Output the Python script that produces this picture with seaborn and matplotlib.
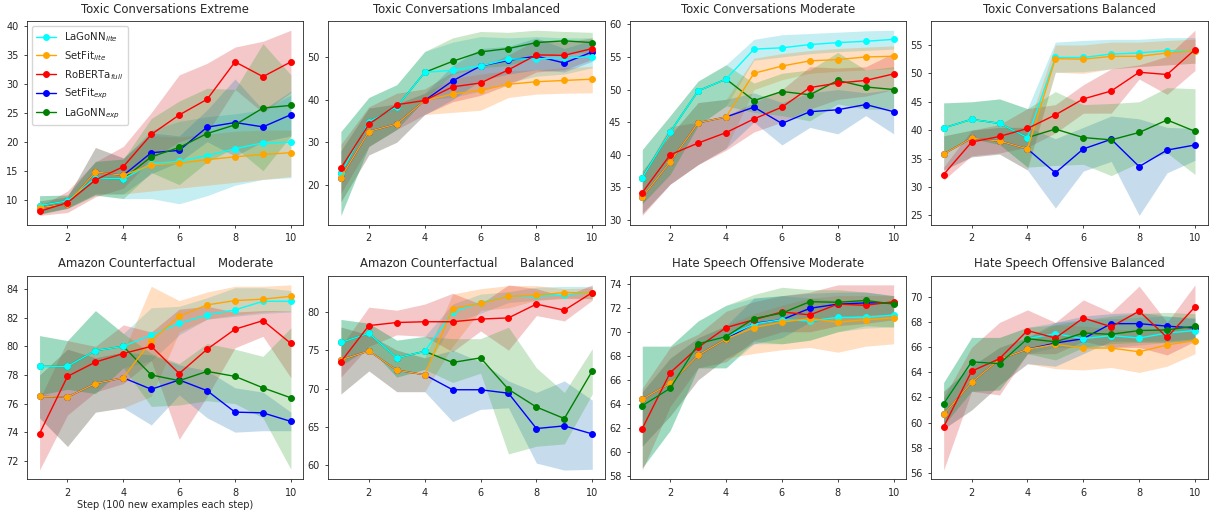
import numpy as np
import matplotlib
matplotlib.use('Agg')
import matplotlib.pyplot as plt
from matplotlib.ticker import MultipleLocator
import seaborn as sns

steps = [1, 2, 3, 4, 5, 6, 7, 8, 9, 10]
series = ['lagonn_lite', 'setfit_lite', 'roberta_full', 'setfit_exp', 'lagonn_exp']
labels = [r'LaGoNN$_{lite}$', r'SetFit$_{lite}$', r'RoBERTa$_{full}$', r'SetFit$_{exp}$', r'LaGoNN$_{exp}$']
line_colors = ['cyan', 'orange', 'red', 'blue', 'green']
band_colors = ['tab:cyan', 'tab:orange', 'tab:red', 'tab:blue', 'tab:green']

titles = ['Toxic Conversations Extreme', 'Toxic Conversations Imbalanced',
          'Toxic Conversations Moderate', 'Toxic Conversations Balanced',
          'Amazon Counterfactual      Moderate', 'Amazon Counterfactual      Balanced',
          'Hate Speech Offensive Moderate', 'Hate Speech Offensive Balanced']

# --- Toxic Conversations Extreme
tc_extreme_mean = {
    'lagonn_lite': [9.0, 9.8, 13.75, 13.6, 16.2, 16.6, 17.6, 18.8, 19.8, 19.9],
    'setfit_lite': [8.6, 9.3, 14.8, 14.2, 16.0, 16.3, 16.9, 17.4, 17.8, 18.1],
    'roberta_full': [8.0, 9.5, 13.4, 15.7, 21.25, 24.6, 27.3, 33.75, 31.2, 33.75],
    'setfit_exp': [8.6, 9.3, 14.8, 14.2, 18.1, 18.5, 22.5, 23.3, 22.55, 24.65],
    'lagonn_exp': [9.0, 9.8, 13.75, 13.6, 17.4, 19.0, 21.4, 22.9, 25.8, 26.25],
}
tc_extreme_lo = {
    'lagonn_lite': [7.5, 8.5, 10.8, 10.2, 10.2, 9.3, 10.7, 12.5, 13.5, 13.8],
    'setfit_lite': [7.6, 8.6, 11.0, 11.0, 11.5, 12.0, 12.5, 13.0, 13.5, 14.0],
    'roberta_full': [7.3, 7.8, 10.5, 12.0, 17.0, 20.0, 21.5, 29.0, 25.0, 28.5],
    'setfit_exp': [7.6, 8.6, 11.0, 11.0, 14.5, 16.5, 20.0, 17.5, 20.0, 21.0],
    'lagonn_exp': [7.5, 8.5, 10.8, 10.2, 14.7, 12.6, 16.5, 19.0, 15.0, 21.0],
}
tc_extreme_hi = {
    'lagonn_lite': [10.7, 10.8, 16.6, 17.0, 22.0, 23.5, 24.3, 24.8, 25.5, 28.0],
    'setfit_lite': [9.8, 10.5, 19.0, 17.2, 21.0, 20.8, 21.3, 21.8, 22.0, 22.0],
    'roberta_full': [8.8, 11.5, 16.5, 19.2, 25.0, 31.5, 33.5, 36.3, 37.3, 39.2],
    'setfit_exp': [9.8, 10.5, 19.0, 17.2, 21.5, 21.0, 25.5, 30.8, 25.5, 28.7],
    'lagonn_exp': [10.7, 10.8, 16.6, 17.0, 24.0, 27.0, 29.2, 29.0, 36.9, 31.5],
}

# --- Toxic Conversations Imbalanced
tc_imbalanced_mean = {
    'lagonn_lite': [22.7, 34.8, 38.3, 46.4, 46.9, 47.9, 49.5, 49.6, 49.8, 50.1],
    'setfit_lite': [21.7, 32.5, 34.3, 39.8, 41.3, 42.2, 43.6, 44.2, 44.5, 44.8],
    'roberta_full': [23.9, 34.2, 38.8, 39.8, 43.0, 43.9, 47.0, 50.5, 50.4, 52.0],
    'setfit_exp': [21.7, 32.5, 34.3, 39.8, 44.4, 47.9, 49.2, 50.2, 48.6, 51.2],
    'lagonn_exp': [22.7, 34.8, 38.3, 46.4, 49.0, 51.2, 52.0, 53.4, 53.8, 53.4],
}
tc_imbalanced_lo = {
    'lagonn_lite': [12.8, 29.0, 33.0, 40.0, 40.5, 42.0, 44.0, 45.5, 46.0, 47.5],
    'setfit_lite': [16.0, 27.0, 30.0, 36.5, 37.0, 37.5, 40.5, 41.3, 41.5, 41.6],
    'roberta_full': [18.0, 29.0, 33.0, 36.5, 39.5, 41.0, 43.5, 46.5, 47.0, 49.5],
    'setfit_exp': [16.0, 27.0, 30.0, 36.5, 40.0, 44.5, 46.0, 47.0, 46.5, 49.0],
    'lagonn_exp': [12.8, 29.0, 33.0, 40.0, 46.0, 47.5, 48.0, 50.0, 51.0, 51.0],
}
tc_imbalanced_hi = {
    'lagonn_lite': [32.5, 40.5, 43.5, 51.3, 53.5, 54.8, 54.5, 54.8, 54.5, 54.5],
    'setfit_lite': [28.0, 38.0, 39.0, 41.5, 45.0, 46.0, 46.8, 47.0, 47.5, 47.8],
    'roberta_full': [29.5, 38.3, 41.5, 42.5, 46.5, 47.5, 50.5, 54.0, 53.5, 54.5],
    'setfit_exp': [28.0, 38.0, 39.0, 41.5, 48.0, 52.0, 52.5, 54.5, 52.0, 54.0],
    'lagonn_exp': [32.5, 40.5, 43.5, 51.3, 54.5, 56.0, 55.8, 56.3, 56.0, 55.8],
}

# --- Toxic Conversations Moderate
tc_moderate_mean = {
    'lagonn_lite': [36.5, 43.5, 49.8, 51.6, 56.2, 56.4, 56.9, 57.2, 57.4, 57.7],
    'setfit_lite': [33.5, 38.9, 44.9, 45.8, 52.5, 53.6, 54.4, 54.6, 55.0, 55.1],
    'roberta_full': [34.2, 40.0, 41.8, 43.4, 45.5, 47.3, 50.3, 51.0, 51.4, 52.4],
    'setfit_exp': [33.5, 38.9, 44.9, 45.8, 47.3, 44.8, 46.6, 46.9, 47.7, 46.6],
    'lagonn_exp': [36.5, 43.5, 49.8, 51.6, 48.3, 49.7, 49.2, 51.4, 50.4, 50.0],
}
tc_moderate_lo = {
    'lagonn_lite': [32.5, 37.0, 44.5, 47.5, 54.5, 55.0, 55.5, 55.8, 56.0, 56.2],
    'setfit_lite': [31.0, 35.5, 38.5, 41.0, 50.0, 51.5, 52.5, 52.8, 53.0, 53.2],
    'roberta_full': [30.7, 35.5, 38.5, 40.7, 43.5, 45.0, 47.0, 48.5, 49.0, 50.0],
    'setfit_exp': [31.0, 35.5, 38.5, 41.0, 45.0, 41.5, 44.2, 43.2, 46.0, 43.2],
    'lagonn_exp': [32.5, 37.0, 44.5, 47.5, 46.5, 46.0, 45.2, 47.8, 47.0, 47.0],
}
tc_moderate_hi = {
    'lagonn_lite': [40.8, 46.0, 51.3, 53.8, 57.7, 58.4, 58.6, 58.8, 59.0, 59.1],
    'setfit_lite': [37.5, 43.0, 48.0, 48.5, 54.8, 55.5, 56.0, 56.3, 56.5, 56.7],
    'roberta_full': [37.0, 44.3, 45.0, 46.0, 48.0, 50.0, 53.5, 53.3, 53.5, 55.6],
    'setfit_exp': [37.5, 43.0, 48.0, 48.5, 49.5, 48.0, 49.5, 50.0, 49.5, 50.0],
    'lagonn_exp': [40.8, 46.0, 51.3, 53.8, 51.0, 52.5, 53.0, 55.7, 53.0, 53.5],
}

# --- Toxic Conversations Balanced
tc_balanced_mean = {
    'lagonn_lite': [40.4, 41.9, 41.2, 38.7, 52.8, 52.8, 53.4, 53.6, 54.0, 54.0],
    'setfit_lite': [35.8, 38.6, 38.1, 36.7, 52.6, 52.5, 53.0, 53.0, 53.6, 54.0],
    'roberta_full': [32.2, 37.9, 38.9, 40.3, 42.7, 45.5, 46.9, 50.2, 49.8, 54.2],
    'setfit_exp': [35.8, 38.6, 38.1, 36.7, 32.5, 36.7, 38.4, 33.6, 36.5, 37.4],
    'lagonn_exp': [40.4, 41.9, 41.2, 38.7, 40.2, 38.7, 38.3, 39.6, 41.8, 39.8],
}
tc_balanced_lo = {
    'lagonn_lite': [36.0, 38.5, 37.5, 33.5, 50.2, 50.3, 50.8, 51.2, 51.5, 51.8],
    'setfit_lite': [33.0, 35.3, 35.8, 33.0, 50.2, 50.0, 50.8, 51.2, 51.5, 51.8],
    'roberta_full': [31.2, 35.5, 36.0, 37.0, 39.5, 43.0, 43.0, 49.0, 46.3, 50.5],
    'setfit_exp': [33.0, 35.3, 35.8, 33.0, 26.3, 32.8, 34.5, 25.0, 32.5, 34.7],
    'lagonn_exp': [36.0, 38.5, 37.5, 33.5, 33.8, 34.0, 32.0, 34.3, 36.0, 32.2],
}
tc_balanced_hi = {
    'lagonn_lite': [44.8, 45.0, 45.5, 43.8, 55.5, 55.8, 56.0, 56.0, 56.3, 56.3],
    'setfit_lite': [39.0, 40.0, 40.5, 40.5, 55.0, 55.0, 55.5, 55.5, 55.8, 56.0],
    'roberta_full': [33.5, 40.0, 41.0, 43.8, 44.5, 48.0, 50.8, 51.5, 53.0, 57.6],
    'setfit_exp': [39.0, 40.0, 40.5, 40.5, 38.5, 40.5, 42.5, 42.0, 40.5, 40.3],
    'lagonn_exp': [44.8, 45.0, 45.5, 43.8, 46.8, 44.5, 44.7, 45.0, 47.5, 47.3],
}

# --- Amazon Counterfactual Moderate
ac_moderate_mean = {
    'lagonn_lite': [78.6, 78.6, 79.7, 80.0, 80.8, 81.6, 82.2, 82.55, 83.15, 83.15],
    'setfit_lite': [76.5, 76.45, 77.4, 77.8, 80.4, 82.1, 82.9, 83.2, 83.3, 83.5],
    'roberta_full': [73.9, 77.9, 78.9, 79.5, 80.0, 78.1, 79.8, 81.2, 81.8, 80.2],
    'setfit_exp': [76.5, 76.45, 77.4, 77.8, 77.0, 77.65, 76.9, 75.4, 75.35, 74.75],
    'lagonn_exp': [78.6, 78.6, 79.7, 80.0, 78.0, 77.6, 78.25, 77.9, 77.1, 76.4],
}
ac_moderate_lo = {
    'lagonn_lite': [76.6, 77.0, 76.7, 78.5, 79.0, 80.8, 81.9, 82.1, 82.3, 82.4],
    'setfit_lite': [75.0, 73.0, 75.4, 75.7, 76.5, 81.0, 81.9, 82.2, 82.4, 82.5],
    'roberta_full': [71.35, 75.2, 76.8, 77.4, 79.0, 73.5, 76.5, 79.9, 80.7, 77.8],
    'setfit_exp': [75.0, 73.0, 75.4, 75.7, 74.5, 76.6, 75.0, 74.0, 74.1, 74.1],
    'lagonn_exp': [76.6, 77.0, 76.7, 78.5, 75.8, 75.9, 76.2, 76.0, 75.0, 71.4],
}
ac_moderate_hi = {
    'lagonn_lite': [80.75, 80.4, 82.5, 80.9, 82.7, 82.8, 83.4, 84.1, 84.1, 83.9],
    'setfit_lite': [78.0, 79.8, 79.2, 79.6, 84.2, 83.2, 83.8, 84.2, 84.2, 84.3],
    'roberta_full': [76.3, 80.4, 80.0, 81.5, 81.0, 82.6, 82.8, 82.4, 82.5, 82.5],
    'setfit_exp': [78.0, 79.8, 79.2, 79.6, 79.4, 78.7, 78.3, 77.1, 76.8, 75.4],
    'lagonn_exp': [80.75, 80.4, 82.5, 80.9, 79.5, 78.8, 80.2, 79.8, 79.3, 81.3],
}

# --- Amazon Counterfactual Balanced
ac_balanced_mean = {
    'lagonn_lite': [76.0, 77.2, 74.0, 74.85, 79.95, 81.2, 82.0, 82.0, 82.2, 82.5],
    'setfit_lite': [73.75, 74.9, 72.4, 71.8, 80.4, 81.1, 82.0, 82.15, 82.5, 82.45],
    'roberta_full': [73.5, 78.2, 78.6, 78.7, 78.7, 79.05, 79.2, 81.0, 80.2, 82.5],
    'setfit_exp': [73.75, 74.9, 72.4, 71.8, 69.85, 69.85, 69.4, 64.8, 65.15, 64.1],
    'lagonn_exp': [76.0, 77.2, 74.0, 74.85, 73.4, 74.0, 69.9, 67.6, 66.1, 72.3],
}
ac_balanced_lo = {
    'lagonn_lite': [73.0, 75.3, 71.5, 72.5, 78.5, 79.8, 81.2, 81.5, 81.8, 81.7],
    'setfit_lite': [69.3, 72.3, 69.6, 69.6, 75.5, 80.2, 80.5, 81.5, 81.7, 81.7],
    'roberta_full': [71.5, 75.5, 77.0, 76.8, 74.8, 77.5, 75.0, 79.5, 78.8, 81.5],
    'setfit_exp': [69.3, 72.3, 69.6, 69.6, 65.7, 67.3, 67.5, 60.3, 59.4, 59.5],
    'lagonn_exp': [73.0, 75.3, 71.5, 72.5, 70.8, 72.0, 61.5, 62.5, 62.8, 69.3],
}
ac_balanced_hi = {
    'lagonn_lite': [79.0, 78.5, 76.3, 76.8, 81.0, 82.3, 82.6, 83.2, 83.3, 83.3],
    'setfit_lite': [78.0, 77.0, 75.0, 74.0, 82.3, 83.0, 83.4, 83.4, 83.0, 83.1],
    'roberta_full': [75.5, 80.6, 80.2, 81.0, 82.4, 81.0, 83.5, 83.0, 82.0, 83.5],
    'setfit_exp': [78.0, 77.0, 75.0, 74.0, 75.0, 73.5, 71.0, 69.5, 71.0, 68.5],
    'lagonn_exp': [79.0, 78.5, 76.3, 76.8, 76.5, 76.5, 78.0, 72.7, 69.5, 75.2],
}

# --- Hate Speech Offensive Moderate
hs_moderate_mean = {
    'lagonn_lite': [63.85, 65.3, 69.0, 69.6, 70.65, 71.0, 70.9, 71.2, 71.2, 71.4],
    'setfit_lite': [64.4, 65.7, 68.05, 69.4, 70.35, 70.8, 71.1, 70.8, 71.0, 71.15],
    'roberta_full': [61.95, 66.6, 68.7, 70.35, 71.0, 71.65, 71.4, 72.3, 72.2, 72.5],
    'setfit_exp': [64.4, 65.7, 68.05, 69.4, 70.7, 71.0, 71.95, 72.3, 72.4, 72.4],
    'lagonn_exp': [63.85, 65.3, 69.0, 69.6, 71.1, 71.55, 72.5, 72.45, 72.6, 72.3],
}
hs_moderate_lo = {
    'lagonn_lite': [58.7, 61.8, 67.0, 67.0, 69.0, 69.0, 69.3, 70.0, 70.3, 70.4],
    'setfit_lite': [60.5, 63.0, 66.0, 67.8, 68.2, 68.5, 68.7, 68.3, 68.8, 69.0],
    'roberta_full': [58.5, 63.8, 67.0, 67.5, 69.3, 70.0, 70.0, 70.5, 70.7, 71.0],
    'setfit_exp': [60.5, 63.0, 66.0, 67.8, 69.0, 69.5, 70.8, 71.2, 71.4, 71.4],
    'lagonn_exp': [58.7, 61.8, 67.0, 67.0, 69.2, 69.0, 69.3, 70.0, 70.5, 70.4],
}
hs_moderate_hi = {
    'lagonn_lite': [68.8, 68.8, 70.9, 72.2, 72.8, 73.0, 72.8, 72.6, 72.5, 72.4],
    'setfit_lite': [65.0, 67.8, 69.5, 70.5, 71.5, 72.2, 72.8, 73.0, 73.0, 73.0],
    'roberta_full': [65.3, 68.7, 69.8, 71.7, 72.5, 73.0, 73.3, 73.9, 73.9, 73.9],
    'setfit_exp': [65.0, 67.8, 69.5, 70.5, 72.8, 73.0, 73.2, 73.3, 73.3, 73.0],
    'lagonn_exp': [68.8, 68.8, 70.9, 72.2, 73.1, 73.7, 73.5, 73.5, 73.3, 73.0],
}

# --- Hate Speech Offensive Balanced
hs_balanced_mean = {
    'lagonn_lite': [61.5, 64.85, 64.7, 66.7, 67.1, 66.7, 66.95, 66.75, 67.15, 67.35],
    'setfit_lite': [60.65, 63.2, 65.05, 65.85, 66.25, 65.95, 65.95, 65.65, 66.2, 66.55],
    'roberta_full': [59.65, 64.1, 65.1, 67.35, 66.75, 68.35, 67.65, 68.9, 66.8, 69.25],
    'setfit_exp': [60.65, 63.2, 65.05, 65.85, 66.35, 66.7, 67.9, 67.9, 67.7, 67.55],
    'lagonn_exp': [61.5, 64.85, 64.7, 66.7, 66.45, 67.15, 67.05, 67.35, 67.4, 67.7],
}
hs_balanced_lo = {
    'lagonn_lite': [59.8, 62.5, 62.6, 65.5, 66.0, 66.0, 66.0, 66.2, 66.4, 66.5],
    'setfit_lite': [59.5, 61.0, 63.0, 64.7, 64.3, 64.2, 64.4, 64.0, 64.5, 65.5],
    'roberta_full': [56.2, 62.5, 62.2, 65.5, 65.5, 66.5, 66.0, 66.0, 65.4, 66.5],
    'setfit_exp': [59.5, 61.0, 63.0, 64.7, 64.5, 65.5, 66.5, 66.5, 66.5, 66.7],
    'lagonn_exp': [59.8, 62.5, 62.6, 65.5, 65.0, 66.0, 66.3, 66.4, 66.4, 66.6],
}
hs_balanced_hi = {
    'lagonn_lite': [63.2, 66.8, 66.8, 67.6, 68.0, 68.2, 68.3, 68.4, 68.5, 68.4],
    'setfit_lite': [62.5, 64.5, 66.0, 66.8, 67.8, 67.7, 67.5, 67.3, 67.6, 67.6],
    'roberta_full': [62.0, 66.0, 68.0, 69.0, 68.0, 69.8, 68.8, 70.9, 68.0, 71.0],
    'setfit_exp': [62.5, 64.5, 66.0, 66.8, 68.0, 68.5, 68.7, 68.8, 68.5, 68.3],
    'lagonn_exp': [63.2, 66.8, 66.8, 67.6, 67.8, 68.2, 68.5, 68.7, 68.8, 68.7],
}

panels = [
    (tc_extreme_mean, tc_extreme_lo, tc_extreme_hi),
    (tc_imbalanced_mean, tc_imbalanced_lo, tc_imbalanced_hi),
    (tc_moderate_mean, tc_moderate_lo, tc_moderate_hi),
    (tc_balanced_mean, tc_balanced_lo, tc_balanced_hi),
    (ac_moderate_mean, ac_moderate_lo, ac_moderate_hi),
    (ac_balanced_mean, ac_balanced_lo, ac_balanced_hi),
    (hs_moderate_mean, hs_moderate_lo, hs_moderate_hi),
    (hs_balanced_mean, hs_balanced_lo, hs_balanced_hi),
]
ytick_step = [5, 10, 5, 5, 2, 5, 2, 2]
green_on_top = [False, False, False, False, False, False, True, True]

sns.set_style('ticks')
plt.rcParams['font.family'] = ['DejaVu Sans']
plt.rcParams['font.size'] = 7
plt.rcParams['axes.linewidth'] = 0.6
plt.rcParams['xtick.major.size'] = 2.5
plt.rcParams['ytick.major.size'] = 2.5
plt.rcParams['xtick.major.width'] = 0.6
plt.rcParams['ytick.major.width'] = 0.6

fig, axes = plt.subplots(2, 4, figsize=(12.1, 5.11), dpi=100)
fig.subplots_adjust(left=0.0223, right=0.998, top=0.959, bottom=0.062,
                    wspace=0.09, hspace=0.25)

for i, ax in enumerate(axes.flat):
    mean, lo, hi = panels[i]
    for j, key in enumerate(series):
        ax.fill_between(steps, lo[key], hi[key], color=band_colors[j],
                        alpha=0.25, linewidth=0, zorder=1)
    for j, key in enumerate(series):
        if key.endswith('exp'):
            z = 2
            if key == 'lagonn_exp' and green_on_top[i]:
                z = 4
        else:
            z = 3
        sns.lineplot(x=steps, y=mean[key], color=line_colors[j], marker='o',
                     markersize=4.2, markeredgecolor=line_colors[j],
                     linewidth=1.0, label=labels[j], zorder=z, ax=ax)
    ax.set_title(titles[i])
    ax.xaxis.set_major_locator(MultipleLocator(2))
    ax.yaxis.set_major_locator(MultipleLocator(ytick_step[i]))
    ax.set_xlabel('')
    ax.set_ylabel('')
    if i == 0:
        ax.legend(loc='upper left', fontsize=7.3)
    elif ax.get_legend() is not None:
        ax.get_legend().remove()

axes[1, 0].set_xlabel('Step (100 new examples each step)', labelpad=1.5)

fig.savefig('out.png', dpi=100)
